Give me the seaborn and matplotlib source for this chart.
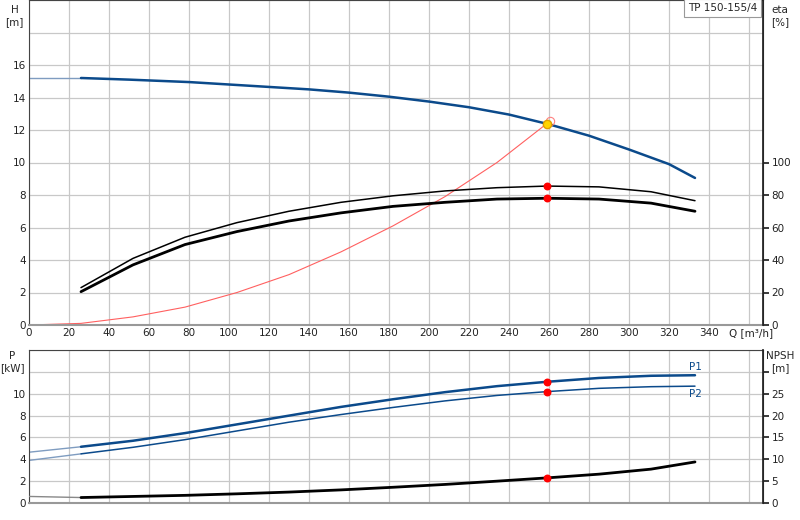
import matplotlib
matplotlib.use("Agg")
import matplotlib.pyplot as plt
import seaborn as sns
import pandas as pd

sns.set_theme(style="white")
plt.rcParams['font.family'] = ['DejaVu Sans']

q_h = [26, 50, 80, 100, 120, 140, 160, 180, 200, 220, 240, 260, 280, 300, 320, 333]
h = [15.2, 15.1, 14.95, 14.8, 14.65, 14.5, 14.3, 14.05, 13.75, 13.4, 12.95, 12.35, 11.65, 10.8, 9.9, 9.05]
q_e = [26, 52, 78, 104, 130, 156, 182, 208, 234, 259, 285, 311, 333]
eta_upper = [23, 41, 54, 63, 70, 75.5, 79.5, 82.5, 84.5, 85.5, 85, 82, 76.5]
eta_lower = [20.5, 37, 49.5, 57.5, 64, 69, 73, 75.5, 77.5, 78, 77.5, 75, 70]
q_sys = [0, 26, 52, 78, 104, 130, 156, 182, 208, 234, 259]
h_sys = [0, 0.1, 0.5, 1.1, 2.0, 3.1, 4.5, 6.1, 7.9, 10.0, 12.4]
q_p = [0, 26, 52, 78, 104, 130, 156, 182, 208, 234, 259, 285, 311, 333]
p1 = [4.65, 5.15, 5.7, 6.4, 7.2, 8.0, 8.8, 9.5, 10.15, 10.7, 11.1, 11.45, 11.65, 11.7]
p2 = [3.9, 4.5, 5.1, 5.8, 6.6, 7.4, 8.1, 8.75, 9.35, 9.85, 10.2, 10.5, 10.65, 10.7]
npsh = [1.5, 1.25, 1.5, 1.75, 2.1, 2.5, 3.0, 3.6, 4.25, 5.0, 5.75, 6.6, 7.75, 9.4]
duty_q = 259
duty_h = 12.4
duty_eta = [85.5, 78]
duty_p = [11.1, 10.2]
duty_npsh = 5.75

blue = "#0b4a8b"
fig = plt.figure(figsize=(8, 5.2), dpi=100)
ax = fig.add_axes([0.03625, 0.375, 0.9175, 0.625])
ax2 = ax.twinx()
bx = fig.add_axes([0.03625, 0.0327, 0.9175, 0.294])
bx2 = bx.twinx()

def grid(a, ymax, ystep):
    a.set_xlim(0, 367)
    a.set_xticks(range(0, 361, 20))
    a.set_yticks([y for y in range(0, ymax + 1, ystep)])
    a.grid(True, color="#c8c8c8", lw=0.9)
    for s in a.spines.values():
        s.set_color("#444444"); s.set_linewidth(0.8)
    a.spines['bottom'].set_color("#999999"); a.spines['bottom'].set_linewidth(1.5)
    a.tick_params(labelsize=7.5, length=0, pad=2, colors="#222222")

# top
grid(ax, 20, 2)
ax.set_ylim(0, 20)
ax.set_yticklabels([str(v) if v <= 16 else "" for v in range(0, 21, 2)])
ax.set_xticklabels([str(v) if v <= 340 else "" for v in range(0, 361, 20)])
ax.annotate("Q [m³/h]", xy=(350, 0), xycoords="data", xytext=(0, -2), textcoords="offset points",
            fontsize=7.5, color="#222222", ha="left", va="top")
sns.lineplot(x=[0, q_h[0]], y=[h[0], h[0]], ax=ax, color="#7f9cc0", lw=1)
sns.lineplot(x=q_h, y=h, ax=ax, color=blue, lw=1.8)
sns.lineplot(x=q_sys, y=h_sys, ax=ax, color="#ff6060", lw=0.8)
ax.plot(duty_q + 1.5, duty_h + 0.15, "o", mfc="none", mec="#ff8080", ms=6, mew=0.8)
ax.plot(duty_q, duty_h, "o", color="#ffd400", mec="#e0a000", ms=6)

ax2.set_ylim(0, 200)
sns.lineplot(x=q_e, y=eta_upper, ax=ax2, color="black", lw=1.1)
sns.lineplot(x=q_e, y=eta_lower, ax=ax2, color="black", lw=2)
ax2.scatter([duty_q, duty_q], duty_eta, color="red", s=22, zorder=5)
ax2.set_yticks(range(0, 101, 20))
ax2.tick_params(labelsize=7.5, length=4, direction="out", colors="#222222", pad=2)
ax2.grid(False)
for s in ax2.spines.values():
    s.set_visible(False)
ax2.spines['right'].set_visible(True); ax2.spines['right'].set_color("#222222")
ax2.set_ylabel("")
ax.set_ylabel("")
fig.text(0.018, 0.99, "H\n[m]", fontsize=7.5, ha="center", va="top", linespacing=1.2)
fig.text(0.975, 0.99, "eta\n[%]", fontsize=7.5, ha="center", va="top", linespacing=1.2)
ax.text(0.992, 0.99, "TP 150-155/4", transform=ax.transAxes, fontsize=7.5, ha="right", va="top",
        bbox=dict(boxstyle="square,pad=0.4", fc="white", ec="#999999", lw=0.8))

# bottom
grid(bx, 14, 2)
bx.set_ylim(0, 14)
bx.set_yticklabels([str(v) if v <= 10 else "" for v in range(0, 15, 2)])
bx.set_xticklabels([])
sns.lineplot(x=q_p[:2], y=p1[:2], ax=bx, color="#7f9cc0", lw=1)
sns.lineplot(x=q_p[1:], y=p1[1:], ax=bx, color=blue, lw=1.8)
sns.lineplot(x=q_p[:2], y=p2[:2], ax=bx, color="#7f9cc0", lw=1)
sns.lineplot(x=q_p[1:], y=p2[1:], ax=bx, color=blue, lw=1.1)
bx.scatter([duty_q, duty_q], duty_p, color="red", s=22, zorder=5)
bx.text(333, p1[-1] + 0.3, "P1", color=blue, fontsize=7.5, ha="center", va="bottom")
bx.text(333, p2[-1] - 0.3, "P2", color=blue, fontsize=7.5, ha="center", va="top")
bx2.set_ylim(0, 35)
sns.lineplot(x=q_p[:2], y=npsh[:2], ax=bx2, color="#888888", lw=1)
sns.lineplot(x=q_p[1:], y=npsh[1:], ax=bx2, color="black", lw=2)
bx2.scatter([duty_q], [duty_npsh], color="red", s=22, zorder=5)
bx2.set_yticks(range(0, 31, 5))
bx2.set_yticklabels([str(v) if v <= 25 else "" for v in range(0, 31, 5)])
bx2.tick_params(labelsize=7.5, length=4, direction="out", colors="#222222", pad=2)
bx2.grid(False)
for s in bx2.spines.values():
    s.set_visible(False)
bx2.spines['right'].set_visible(True); bx2.spines['right'].set_color("#222222")
bx.set_ylabel(""); bx2.set_ylabel("")
fig.text(0.015, 0.325, "P\n[kW]", fontsize=7.5, ha="center", va="top", linespacing=1.2)
fig.text(0.975, 0.325, "NPSH\n[m]", fontsize=7.5, ha="center", va="top", linespacing=1.2)

fig.savefig("out.png", dpi=100)
